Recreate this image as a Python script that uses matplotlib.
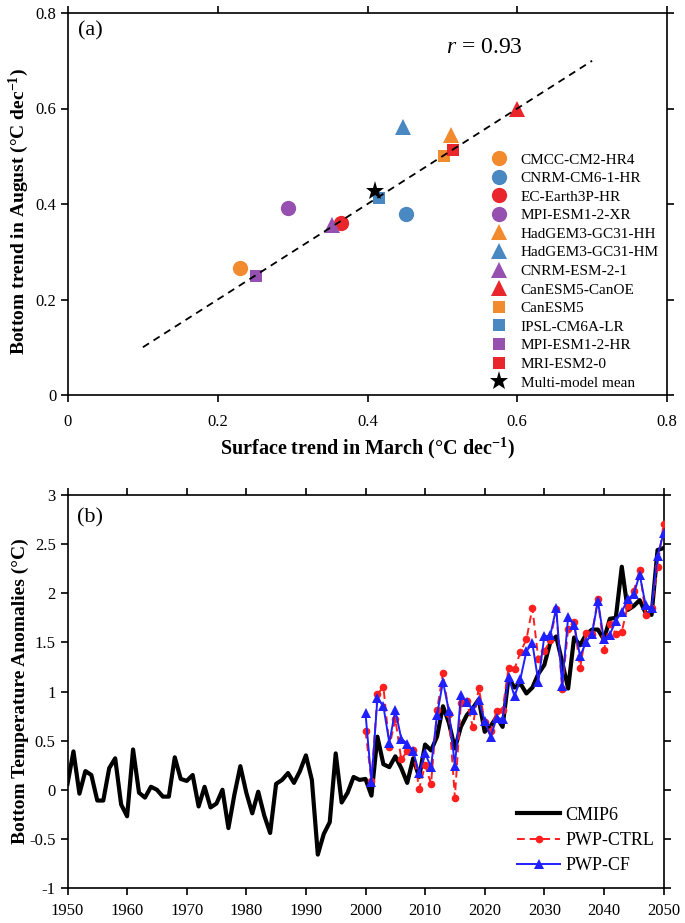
import matplotlib
matplotlib.use("Agg")
import matplotlib.pyplot as plt
import numpy as np

plt.rcParams['font.family'] = ['Liberation Serif', 'DejaVu Serif']
plt.rcParams['mathtext.fontset'] = 'custom'
plt.rcParams['mathtext.rm'] = 'Liberation Serif'
plt.rcParams['mathtext.it'] = 'Liberation Serif:italic'
plt.rcParams['mathtext.bf'] = 'Liberation Serif:bold'
plt.rcParams['axes.unicode_minus'] = False
plt.rcParams['axes.linewidth'] = 1.2

# ---------------- Panel (a) data ----------------
models = ['CMCC-CM2-HR4', 'CNRM-CM6-1-HR', 'EC-Earth3P-HR', 'MPI-ESM1-2-XR',
          'HadGEM3-GC31-HH', 'HadGEM3-GC31-HM', 'CNRM-ESM-2-1', 'CanESM5-CanOE',
          'CanESM5', 'IPSL-CM6A-LR', 'MPI-ESM1-2-HR', 'MRI-ESM2-0']
surface_march = [0.230, 0.451, 0.365, 0.294, 0.512, 0.447, 0.353, 0.599,
                 0.502, 0.416, 0.251, 0.514]
bottom_august = [0.267, 0.379, 0.361, 0.391, 0.545, 0.561, 0.356, 0.600,
                 0.501, 0.413, 0.250, 0.514]
model_colors = ['#F28A2E', '#4A88C2', '#E8262B', '#9650B0',
                '#F28A2E', '#4A88C2', '#9650B0', '#E8262B',
                '#F28A2E', '#4A88C2', '#9650B0', '#E8262B']
model_markers = ['o', 'o', 'o', 'o', '^', '^', '^', '^', 's', 's', 's', 's']
mmm_x, mmm_y = 0.410, 0.427
fit_x = [0.1, 0.7]
fit_y = [0.1, 0.7]
r_value = 0.93

# ---------------- Panel (b) data ----------------
years_cmip = list(range(1950, 2051))
cmip6 = [0.06, 0.39, -0.04, 0.19, 0.15, -0.11, -0.11, 0.22, 0.32, -0.15,
         -0.27, 0.41, -0.03, -0.08, 0.03, 0.00, -0.07, -0.07, 0.33, 0.11,
         0.09, 0.15, -0.17, 0.03, -0.18, -0.14, 0.00, -0.39, -0.05, 0.24,
         -0.03, -0.24, -0.02, -0.26, -0.44, 0.06, 0.10, 0.17, 0.07, 0.19,
         0.35, 0.10, -0.66, -0.45, -0.33, 0.37, -0.13, -0.03, 0.13, 0.10,
         0.11, -0.06, 0.54, 0.26, 0.23, 0.34, 0.22, 0.07, 0.32, 0.13,
         0.46, 0.40, 0.54, 0.85, 0.68, 0.42, 0.64, 0.76, 0.83, 0.92,
         0.59, 0.65, 0.74, 0.64, 1.14, 1.04, 1.08, 0.98, 1.04, 1.18,
         1.27, 1.50, 1.56, 1.30, 1.03, 1.55, 1.47, 1.58, 1.63, 1.63,
         1.53, 1.74, 1.75, 2.27, 1.83, 1.87, 1.93, 1.80, 1.78, 2.44,
         2.46]
years_pwp = list(range(2000, 2051))
pwp_ctrl = [0.60, 0.09, 0.97, 1.05, 0.44, 0.72, 0.31, 0.39, 0.40, 0.01,
            0.25, 0.06, 0.81, 1.19, 0.77, -0.08, 0.88, 0.90, 0.64, 1.04,
            0.69, 0.60, 0.80, 0.81, 1.24, 1.23, 1.40, 1.53, 1.85, 1.33,
            1.41, 1.52, 1.84, 1.03, 1.64, 1.71, 1.24, 1.60, 1.59, 1.94,
            1.42, 1.69, 1.59, 1.61, 1.87, 2.02, 2.24, 1.78, 1.85, 2.27,
            2.70]
pwp_cf = [0.78, 0.08, 0.93, 0.85, 0.48, 0.81, 0.52, 0.47, 0.39, 0.17,
          0.37, 0.23, 0.76, 1.10, 0.80, 0.24, 0.96, 0.89, 0.81, 0.91,
          0.70, 0.54, 0.73, 0.72, 1.15, 0.95, 1.13, 1.41, 1.49, 1.10,
          1.56, 1.57, 1.85, 1.06, 1.76, 1.68, 1.36, 1.50, 1.59, 1.92,
          1.53, 1.58, 1.72, 1.81, 1.94, 1.99, 2.19, 1.88, 1.85, 2.38,
          2.61]

fig = plt.figure(figsize=(6.85, 9.23), dpi=100)

# ---------------- Panel (a) ----------------
ax1 = fig.add_axes([68/685, 1 - 395/923, 599/685, 382/923])
msize = {'o': 11, '^': 12, 's': 9}
for x, y, c, m, name in zip(surface_march, bottom_august, model_colors, model_markers, models):
    ax1.plot([x], [y], linestyle='none', marker=m, color=c, markersize=msize[m],
             markeredgewidth=0, label=name, zorder=2)
ax1.plot(fit_x, fit_y, linestyle=(0, (4, 3)), color='black', linewidth=1.3, zorder=3)
ax1.plot([mmm_x], [mmm_y], linestyle='none', marker='*', color='black', markersize=14,
         markeredgewidth=0, label='Multi-model mean', zorder=4)
ax1.text(0.505, 0.728, r'$\it{r}$ = ' + f'{r_value:.2f}', fontsize=17, ha='left', va='center')
ax1.text(0.016, 0.952, '(a)', transform=ax1.transAxes, fontsize=16, ha='left', va='center')
ax1.set_xlim(0, 0.8)
ax1.set_ylim(0, 0.8)
ticks_a = [0, 0.2, 0.4, 0.6, 0.8]
ax1.set_xticks(ticks_a)
ax1.set_yticks(ticks_a)
ax1.set_xticklabels(['0', '0.2', '0.4', '0.6', '0.8'])
ax1.set_yticklabels(['0', '0.2', '0.4', '0.6', '0.8'])
ax1.set_xlabel(r'Surface trend in March (°C dec$^{\mathbf{-1}}$)', fontsize=14.5,
               fontweight='bold', labelpad=4)
ax1.set_ylabel(r'Bottom trend in August (°C dec$^{\mathbf{-1}}$)', fontsize=14,
               fontweight='bold')
ax1.yaxis.set_label_coords(-0.062, 0.48)
leg1 = ax1.legend(loc='upper left', bbox_to_anchor=(0.705, 0.634), frameon=False,
                  fontsize=11, handlelength=1.2, handletextpad=0.8, labelspacing=0.32,
                  borderpad=0, borderaxespad=0, numpoints=1)

# ---------------- Panel (b) ----------------
ax2 = fig.add_axes([67.5/685, 1 - 888/923, 596/685, 393/923])
ax2.plot(years_cmip, cmip6, color='black', linewidth=3.0, label='CMIP6', zorder=2)
ax2.plot(years_pwp, pwp_ctrl, color='#FF1F1F', linestyle=(0, (4, 2.5)), linewidth=1.4,
         marker='o', markersize=5.5, markeredgewidth=0, label='PWP-CTRL', zorder=3)
ax2.plot(years_pwp, pwp_cf, color='#1F1FFF', linestyle='-', linewidth=1.4,
         marker='^', markersize=6.5, markeredgewidth=0, label='PWP-CF', zorder=4)
ax2.text(0.016, 0.942, '(b)', transform=ax2.transAxes, fontsize=16, ha='left', va='center')
ax2.set_xlim(1950, 2050)
ax2.set_ylim(-1, 3)
ax2.set_xticks(list(range(1950, 2051, 10)))
yt = [-1, -0.5, 0, 0.5, 1, 1.5, 2, 2.5, 3]
ax2.set_yticks(yt)
ax2.set_yticklabels(['-1', '-0.5', '0', '0.5', '1', '1.5', '2', '2.5', '3'])
ax2.set_ylabel('Bottom Temperature Anomalies (°C)', fontsize=14, fontweight='bold')
ax2.yaxis.set_label_coords(-0.064, 0.5)
ax2.legend(loc='lower right', bbox_to_anchor=(0.985, 0.035), frameon=False, fontsize=13,
           handlelength=2.4, handletextpad=0.3, labelspacing=0.46, borderpad=0,
           borderaxespad=0)

for ax in (ax1, ax2):
    ax.tick_params(direction='out', length=5, width=1.2, labelsize=12,
                   top=True, right=True, labeltop=False, labelright=False)
    ax.minorticks_off()
ax1.tick_params(axis='x', pad=9)
ax2.tick_params(axis='x', pad=6)

fig.savefig('out.png', dpi=100, facecolor='white')
